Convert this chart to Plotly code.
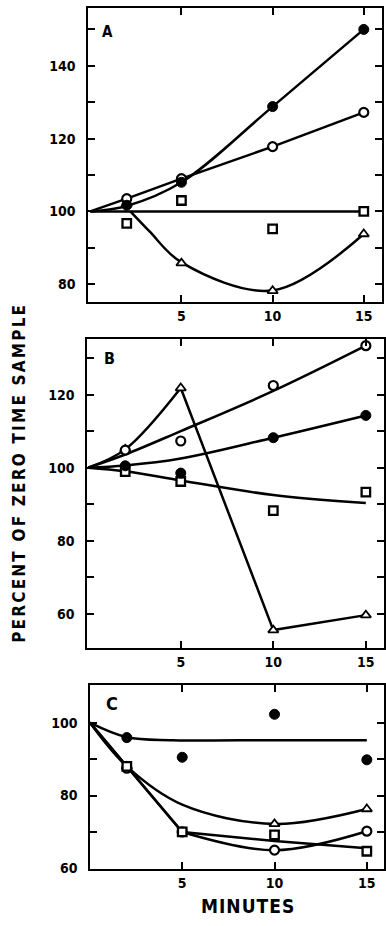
import plotly.graph_objects as go

# ---------------- data ----------------
minutes = [2, 5, 10, 15]
fit_x = [0, 2, 5, 10, 15]

# Panel A
a_filled = [101.7, 108, 128.8, 150]
a_open = [103.5, 109, 117.8, 127.2]
a_square = [96.7, 103, 95.2, 100]
a_triangle = [102, 85.8, 78.2, 93.8]
a_filled_fit = [100, 101.5, 108, 128.8, 150]
a_open_fit = [100, 103.5, 109, 117.8, 127.2]
a_square_fit_x = [0, 15]
a_square_fit = [100, 100]
a_triangle_fit_x = [2.2, 3.25, 5, 10, 15]
a_triangle_fit = [100, 94.5, 86, 78.3, 93.8]

# Panel B
b_open = [104.8, 107.3, 122.5, 133.4]
b_triangle = [105, 121.8, 55.5, 59.6]
b_filled = [100.5, 98.5, 108.2, 114.3]
b_square = [98.9, 96.2, 88.2, 93.3]
b_open_fit = [100, 103.6, 110, 121, 133.4]
b_triangle_fit1_x = [0, 2, 5]
b_triangle_fit1 = [100, 105, 121.8]
b_triangle_fit2_x = [5, 10, 15]
b_triangle_fit2 = [121.8, 55.5, 59.6]
b_filled_fit = [100, 100.6, 102.5, 108.2, 114.3]
b_square_fit = [100, 99, 96.5, 92.5, 90.3]

# Panel C
c_filled = [95.9, 90.5, 102.3, 89.8]
c_triangle_x = [2, 10, 15]
c_triangle = [88, 72.2, 76.3]
c_square = [88, 70, 69.2, 64.7]
c_open = [87.5, 70, 65, 70.2]
c_filled_fit_x = [0, 2, 4.5, 10, 15]
c_filled_fit = [100, 96, 95.2, 95.2, 95.2]
c_triangle_fit = [100, 88, 77.5, 72.2, 76.3]
c_square_fit = [100, 88, 70, 67.5, 65.5]
c_open_fit1_x = [0, 2, 5]
c_open_fit1 = [100, 88, 70]
c_open_fit2_x = [5, 10, 15]
c_open_fit2 = [70, 65, 70.2]

x_ticks = [5, 10, 15]
x_ticklabels = ["5", "10", "15"]
a_yticks = [80, 90, 100, 110, 120, 130, 140, 150]
a_yticklabels = ["80", "", "100", "", "120", "", "140", ""]
b_yticks = [60, 70, 80, 90, 100, 110, 120, 130]
b_yticklabels = ["60", "", "80", "", "100", "", "120", ""]
c_yticks = [60, 70, 80, 90, 100]
c_yticklabels = ["60", "", "80", "", "100"]

FONT = "DejaVu Sans Condensed, DejaVu Sans, sans-serif"

fig = go.Figure()

def line(x, y, ax, shape="linear"):
    fig.add_trace(go.Scatter(x=x, y=y, mode="lines", xaxis=ax[0], yaxis=ax[1],
                             line=dict(color="black", width=2.5, shape=shape,
                                       smoothing=1.0 if shape == "spline" else None),
                             hoverinfo="skip", showlegend=False))

def pts(x, y, ax, kind):
    if kind == "filled":
        m = dict(symbol="circle", size=10, color="black", line=dict(color="black", width=1))
    elif kind == "open":
        m = dict(symbol="circle", size=9, color="white", line=dict(color="black", width=2.2))
    elif kind == "square":
        m = dict(symbol="square", size=8.5, color="white", line=dict(color="black", width=2.3))
    else:
        m = dict(symbol="triangle-up", size=9, color="white", line=dict(color="black", width=1.8))
    fig.add_trace(go.Scatter(x=x, y=y, mode="markers", xaxis=ax[0], yaxis=ax[1],
                             marker=m, showlegend=False))

A = ("x", "y")
B = ("x2", "y2")
C = ("x3", "y3")

# Panel A
line(a_square_fit_x, a_square_fit, A)
line(a_triangle_fit_x, a_triangle_fit, A, "spline")
line(fit_x, a_open_fit, A)
line(fit_x, a_filled_fit, A, "spline")
pts(minutes, a_square, A, "square")
pts(minutes, a_triangle, A, "triangle")
pts(minutes, a_open, A, "open")
pts(minutes, a_filled, A, "filled")

# Panel B
line(fit_x, b_open_fit, B, "spline")
line(b_triangle_fit1_x, b_triangle_fit1, B, "spline")
line(b_triangle_fit2_x, b_triangle_fit2, B)
line(fit_x, b_filled_fit, B, "spline")
line(fit_x, b_square_fit, B, "spline")
pts(minutes, b_square, B, "square")
pts(minutes, b_triangle, B, "triangle")
pts(minutes, b_open, B, "open")
pts(minutes, b_filled, B, "filled")

# Panel C
line(c_filled_fit_x, c_filled_fit, C, "spline")
line(fit_x, c_triangle_fit, C, "spline")
line(fit_x, c_square_fit, C)
line(c_open_fit1_x, c_open_fit1, C)
line(c_open_fit2_x, c_open_fit2, C, "spline")
pts(minutes, c_filled, C, "filled")
pts(c_triangle_x, c_triangle, C, "triangle")
pts(minutes, c_open, C, "open")
pts(minutes, c_square, C, "square")

W, H = 386, 926

def xa(dom, rng, anchor):
    return dict(domain=[dom[0] / W, dom[1] / W], range=rng, anchor=anchor,
                tickvals=x_ticks, ticktext=x_ticklabels, ticks="inside", ticklen=7,
                tickwidth=2, tickcolor="black", showline=True, linecolor="black",
                linewidth=2.2, mirror="allticks", showgrid=False, zeroline=False,
                tickfont=dict(family=FONT, size=14, color="black", weight="bold"))

def ya(dom, rng, anchor, tv, tt):
    return dict(domain=[1 - dom[1] / H, 1 - dom[0] / H], range=rng, anchor=anchor,
                tickvals=tv, ticktext=tt, ticks="inside", ticklen=7,
                tickwidth=2, tickcolor="black", showline=True, linecolor="black",
                linewidth=2.2, mirror="allticks", showgrid=False, zeroline=False,
                ticklabelstandoff=7,
                tickfont=dict(family=FONT, size=14, color="black", weight="bold"))

fig.update_layout(
    width=W, height=H, margin=dict(l=0, r=0, t=0, b=0),
    paper_bgcolor="white", plot_bgcolor="white",
    xaxis=xa((88, 384), [-0.15, 16.0], "y"),
    yaxis=ya((8, 304), [75.2, 155.9], "x", a_yticks, a_yticklabels),
    xaxis2=xa((87, 386), [-0.09, 15.98], "y2"),
    yaxis2=ya((341.7, 653.3), [50.5, 135.2], "x2", b_yticks, b_yticklabels),
    xaxis3=xa((90, 386), [-0.02, 15.93], "y3"),
    yaxis3=ya((690, 875.7), [59.8, 110.4], "x3", c_yticks, c_yticklabels),
)

def ann(text, x, y, size, angle=0, spacing=None, family=FONT):
    t = text
    if spacing:
        t = '<span style="letter-spacing:%spx">%s</span>' % (spacing, text)
    fig.add_annotation(text=t, x=x / W, y=1 - y / H, xref="paper", yref="paper",
                       showarrow=False, textangle=angle, xanchor="center", yanchor="middle",
                       font=dict(family=family, size=size, color="black", weight="bold"))

ann("A", 108.5, 32, 15)
ann("B", 110.5, 361, 16)
ann("C", 113, 709, 18)
ann("PERCENT OF ZERO TIME SAMPLE", 19.5, 476, 17, angle=-90, spacing=2.2)
ann("MINUTES", 249, 912.5, 19, spacing=1)

fig.write_html("out.html", config={"displayModeBar": False},
               post_script="document.body.style.margin='0';document.body.style.overflow='hidden';")
